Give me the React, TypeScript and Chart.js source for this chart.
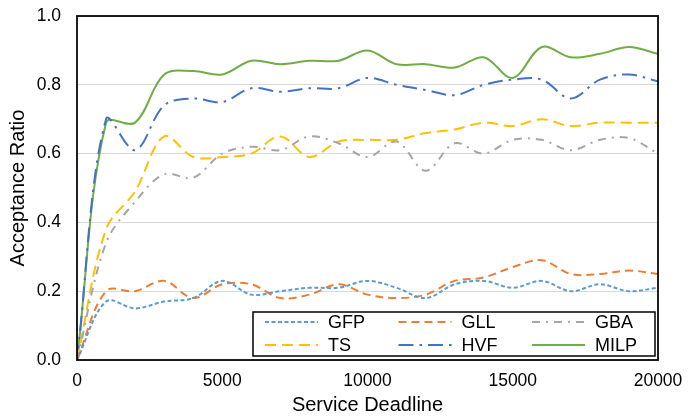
import { useEffect, useRef } from 'react'
import Chart from 'chart.js/auto'

// Acceptance ratio vs service deadline — six schemes, smoothed lines, boxed legend inside the plot

const DEADLINES = [0, 1000, 2000, 3000, 4000, 5000, 6000, 7000, 8000, 9000, 10000,
  11000, 12000, 13000, 14000, 15000, 16000, 17000, 18000, 19000, 20000]

const GFP  = [0, 0.17, 0.15, 0.17, 0.18, 0.23, 0.19, 0.20, 0.21, 0.21, 0.23, 0.21, 0.18, 0.22, 0.23, 0.21, 0.23, 0.20, 0.22, 0.20, 0.21]
const GLL  = [0, 0.20, 0.20, 0.23, 0.18, 0.22, 0.22, 0.18, 0.19, 0.22, 0.19, 0.18, 0.19, 0.23, 0.24, 0.27, 0.29, 0.25, 0.25, 0.26, 0.25]
const GBA  = [0, 0.34, 0.46, 0.54, 0.53, 0.60, 0.62, 0.61, 0.65, 0.63, 0.59, 0.635, 0.55, 0.63, 0.60, 0.64, 0.64, 0.61, 0.64, 0.645, 0.60]
const TS   = [0, 0.38, 0.49, 0.65, 0.59, 0.59, 0.60, 0.65, 0.59, 0.635, 0.64, 0.64, 0.66, 0.67, 0.69, 0.68, 0.70, 0.68, 0.69, 0.69, 0.69]
const HVF  = [0, 0.70, 0.61, 0.74, 0.76, 0.75, 0.79, 0.78, 0.79, 0.79, 0.82, 0.80, 0.785, 0.77, 0.80, 0.815, 0.815, 0.76, 0.815, 0.83, 0.81]
const MILP = [0, 0.69, 0.69, 0.83, 0.84, 0.83, 0.87, 0.86, 0.87, 0.87, 0.90, 0.86, 0.86, 0.85, 0.88, 0.82, 0.91, 0.88, 0.89, 0.91, 0.89]

const X_TICKS = [0, 5000, 10000, 15000, 20000]

const SERIES = [
  { label: 'GFP',  data: GFP,  color: '#5B9BD5', dash: [4, 2.5] },
  { label: 'GLL',  data: GLL,  color: '#ED7D31', dash: [8, 5] },
  { label: 'GBA',  data: GBA,  color: '#A5A5A5', dash: [8, 6, 2, 6] },
  { label: 'TS',   data: TS,   color: '#FFC000', dash: [11, 6] },
  { label: 'HVF',  data: HVF,  color: '#4472C4', dash: [15, 6, 2.5, 6] },
  { label: 'MILP', data: MILP, color: '#70AD47', dash: [] as number[] },
]

const FONT = 'Liberation Sans, Arial, sans-serif'

export default function App() {
  const canvasRef = useRef<HTMLCanvasElement>(null)

  useEffect(() => {
    document.body.style.margin = '0'
    if (!canvasRef.current) return

    // 플롯 외곽 테두리
    const frame = {
      id: 'frame',
      afterDraw(c: any) {
        const { ctx, chartArea: a } = c
        ctx.save()
        ctx.strokeStyle = '#000'; ctx.lineWidth = 1.75
        ctx.strokeRect(a.left, a.top, a.right - a.left, a.bottom - a.top)
        ctx.restore()
      },
    }

    // 범례 — 플롯 오른쪽 아래, 3열 2행
    const legendBox = {
      id: 'legendBox',
      afterDraw(c: any) {
        const { ctx, chartArea: a } = c
        const w = 402, h = 44
        const x0 = a.right - 3 - w, y0 = a.bottom - 4 - h
        ctx.save()
        ctx.fillStyle = '#fff'; ctx.fillRect(x0, y0, w, h)
        ctx.strokeStyle = '#000'; ctx.lineWidth = 1.5; ctx.strokeRect(x0, y0, w, h)
        SERIES.forEach((s, i) => {
          const lx = x0 + 12 + (i % 3) * 133.5
          const ly = y0 + 10 + Math.floor(i / 3) * 23
          ctx.beginPath(); ctx.moveTo(lx, ly); ctx.lineTo(lx + 53, ly)
          ctx.strokeStyle = s.color; ctx.lineWidth = 2; ctx.setLineDash(s.dash); ctx.stroke(); ctx.setLineDash([])
          ctx.fillStyle = '#000'; ctx.font = `18px ${FONT}`
          ctx.textAlign = 'left'; ctx.textBaseline = 'middle'
          ctx.fillText(s.label, lx + 63, ly + 1)
        })
        ctx.restore()
      },
    }

    const chart = new Chart(canvasRef.current, {
      type: 'line',
      data: {
        datasets: SERIES.map(s => ({
          label: s.label,
          data: DEADLINES.map((x, i) => ({ x, y: s.data[i] })),
          borderColor: s.color, backgroundColor: s.color, borderWidth: 2, borderDash: s.dash,
          pointRadius: 0, tension: 0.35, fill: false,
        })) as any,
      },
      options: {
        responsive: false, animation: false,
        layout: { padding: { top: 16, right: 34, bottom: 0, left: 0 } },
        plugins: { legend: { display: false }, tooltip: { enabled: false } },
        scales: {
          x: {
            type: 'linear', min: 0, max: 20000,
            afterBuildTicks: (s: any) => { s.ticks = X_TICKS.map(v => ({ value: v })) },
            afterFit: (s: any) => { s.height = 56; s.paddingLeft = 0; s.paddingRight = 0 },
            grid: { display: false, drawTicks: false }, border: { display: false },
            ticks: { color: '#000', padding: 11, maxRotation: 0, font: { family: FONT, size: 17.5 }, callback: (v: any) => String(v) },
            title: { display: true, text: 'Service Deadline', color: '#000', padding: { top: 0, bottom: 0 }, font: { family: FONT, size: 20, lineHeight: 1.1 } },
          },
          y: {
            min: 0, max: 1,
            afterFit: (s: any) => { s.width = 77; s.paddingTop = 0; s.paddingBottom = 0 },
            grid: { color: '#D9D9D9', lineWidth: 1, drawTicks: false }, border: { display: false },
            ticks: { stepSize: 0.2, color: '#000', padding: 16, font: { family: FONT, size: 17.5 }, callback: (v: any) => Number(v).toFixed(1) },
            title: { display: true, text: 'Acceptance Ratio', color: '#000', padding: { top: 7, bottom: 0 }, font: { family: FONT, size: 20, lineHeight: 1.1 } },
          },
        },
      },
      plugins: [frame, legendBox],
    })

    return () => { chart.destroy() }
  }, [])

  return (
    <div style={{ width: 692, height: 416 }}>
      <canvas ref={canvasRef} width={692} height={416} style={{ display: 'block' }} />
    </div>
  )
}
